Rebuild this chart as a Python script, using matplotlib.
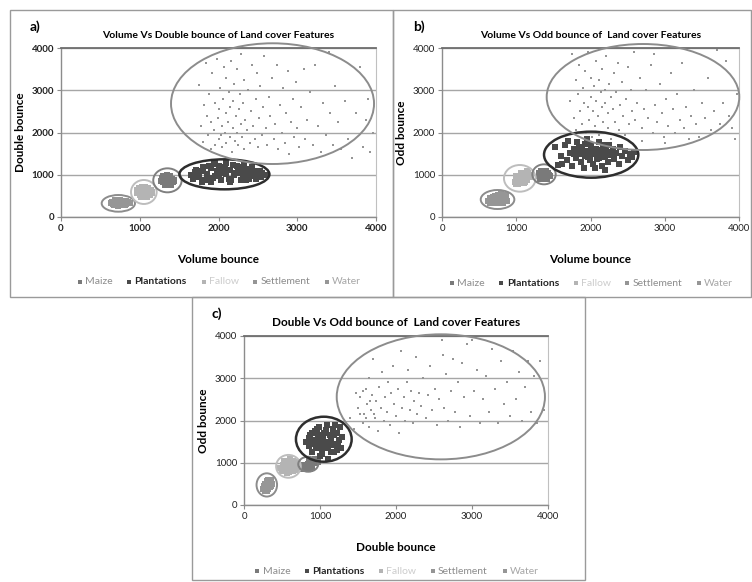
import matplotlib.pyplot as plt
from matplotlib.patches import Ellipse, Rectangle

plt.rcParams['font.family'] = ['Lato', 'DejaVu Sans']

W, H = 752, 582

classes = ["Maize", "Plantations", "Fallow", "Settlement", "Water"]
point_colors = {"Maize": "#7a7a7a", "Plantations": "#4a4a4a", "Fallow": "#b4b4b4",
                "Settlement": "#959595", "Water": "#969696"}
legend_text_colors = {"Maize": "#8c8c8c", "Plantations": "#262626", "Fallow": "#cccccc",
                      "Settlement": "#8c8c8c", "Water": "#a6a6a6"}
point_sizes = {"Maize": 14, "Plantations": 24, "Fallow": 14, "Settlement": 4, "Water": 14}

# ---------------- panel a: Volume vs Double ----------------
a_water = [(640, 330), (660, 300), (680, 360), (700, 320), (720, 380), (740, 340), (760, 300), (780, 360),
           (800, 330), (820, 310), (850, 350), (870, 320), (670, 280), (710, 290), (750, 400), (790, 390),
           (830, 370), (690, 410), (730, 270), (770, 280), (810, 290), (650, 350)]
a_fallow = [(960, 560), (980, 600), (1000, 520), (1020, 650), (1040, 580), (1060, 620), (1080, 540),
            (1100, 680), (1120, 590), (1140, 630), (1160, 570), (990, 690), (1030, 700), (1070, 710),
            (1110, 660), (1150, 600), (1010, 480), (1050, 500), (1090, 470), (1130, 520), (970, 640),
            (1000, 560), (1060, 560), (1120, 550)]
a_maize = [(1270, 860), (1290, 820), (1310, 900), (1330, 780), (1350, 940), (1370, 850), (1390, 810),
           (1410, 900), (1430, 870), (1300, 960), (1340, 990), (1380, 960), (1420, 820), (1280, 920),
           (1320, 760), (1360, 880), (1400, 760), (1440, 850), (1310, 840), (1350, 800), (1390, 980),
           (1330, 920), (1370, 900)]
a_plant = [(1650, 1000), (1700, 1060), (1750, 950), (1800, 1110), (1850, 1020), (1900, 1150), (1950, 980),
           (2000, 1210), (2050, 1050), (2100, 1270), (2150, 1120), (2200, 990), (2250, 1180), (2300, 1060),
           (2350, 1130), (2400, 960), (2450, 1080), (2500, 1010), (2550, 1050), (2600, 990),
           (1680, 900), (1730, 980), (1780, 1080), (1830, 870), (1880, 1200), (1930, 920), (1980, 1100),
           (2030, 870), (2080, 1180), (2130, 900), (2180, 1230), (2230, 1050), (2280, 880), (2330, 1220),
           (2380, 1010), (2430, 1180), (2480, 900), (2530, 1100), (2580, 1000),
           (1720, 1120), (1790, 840), (1860, 960), (1940, 1250), (2010, 960), (2090, 1100), (2160, 880),
           (2240, 1200), (2310, 990), (2390, 900), (2460, 1030), (2540, 950),
           (1800, 1180), (1900, 820), (2000, 1080), (2100, 1010), (2200, 1040), (2300, 1110), (2400, 1050),
           (1950, 1270), (2150, 820), (2350, 880)]
a_settle = [(1750, 3120), (1780, 2150), (1800, 1780), (1820, 2650), (1840, 3650), (1850, 2400), (1870, 1950),
            (1880, 2900), (1900, 1600), (1900, 2250), (1920, 3400), (1940, 2050), (1950, 2700), (1960, 1700),
            (1980, 3750), (1990, 2350), (2000, 1850), (2010, 2550), (2020, 3050), (2030, 1950), (2040, 2150),
            (2050, 1650), (2060, 2800), (2070, 3550), (2080, 2000), (2090, 2450), (2100, 1750), (2100, 3300),
            (2120, 2250), (2130, 2950), (2140, 1900), (2150, 2600), (2160, 3700), (2170, 1550), (2180, 2100),
            (2190, 2750), (2200, 3150), (2210, 1800), (2220, 2400), (2230, 2000), (2240, 3500), (2250, 1700),
            (2260, 2550), (2270, 2900), (2280, 2200), (2290, 3850), (2300, 1900), (2310, 2700), (2320, 3250),
            (2330, 1600), (2340, 2300), (2360, 2050), (2380, 3000), (2400, 1750), (2410, 2500), (2420, 3600),
            (2440, 2150), (2460, 1850), (2470, 2800), (2490, 3400), (2500, 1650), (2510, 2350), (2530, 3100),
            (2550, 1950), (2560, 2600), (2580, 3800), (2600, 2100), (2620, 1700), (2640, 2850), (2660, 2400),
            (2680, 3300), (2700, 1850), (2720, 2200), (2740, 3600), (2760, 1600), (2780, 2650), (2800, 2000),
            (2820, 3050), (2840, 1750), (2860, 2450), (2880, 3450), (2900, 1500), (2920, 2250), (2940, 2800),
            (2960, 1900), (2980, 3200), (3000, 2100), (3020, 1650), (3050, 2600), (3080, 3500), (3100, 1850),
            (3130, 2300), (3160, 2950), (3200, 1700), (3230, 3600), (3260, 2150), (3300, 1550), (3330, 2700),
            (3360, 1950), (3400, 3900), (3420, 2450), (3450, 1700), (3480, 3100), (3520, 2250), (3560, 1600),
            (3600, 2750), (3650, 1850), (3700, 1400), (3740, 2450), (3800, 3550), (3830, 1650), (3870, 2300),
            (3900, 2800), (3930, 1550), (3960, 2000)]

# ---------------- panel b: Volume vs Odd ----------------
b_water = [(620, 380), (640, 330), (660, 420), (680, 460), (700, 380), (720, 500), (740, 440), (760, 520),
           (780, 470), (800, 540), (820, 400), (850, 450), (880, 380), (660, 350), (700, 340), (740, 360),
           (780, 330), (820, 330), (640, 460), (720, 430), (760, 400), (860, 510), (690, 480)]
b_fallow = [(980, 830), (1000, 900), (1020, 780), (1040, 960), (1060, 850), (1080, 920), (1100, 800),
            (1120, 990), (1140, 880), (1160, 1050), (1180, 940), (1000, 780), (1040, 800), (1080, 1000),
            (1120, 820), (1150, 1080), (1060, 1030), (990, 960), (1100, 900), (1200, 1000), (1020, 870),
            (1140, 960)]
b_maize = [(1310, 960), (1330, 1020), (1350, 920), (1370, 1060), (1390, 980), (1410, 900), (1430, 1040),
           (1450, 960), (1320, 900), (1360, 1000), (1400, 1080), (1440, 1000), (1340, 1080), (1380, 940),
           (1420, 960), (1300, 1040), (1360, 900)]
b_plant = [(1520, 1650), (1560, 1230), (1600, 1450), (1650, 1700), (1680, 1350), (1720, 1520), (1750, 1200),
           (1780, 1620), (1800, 1400), (1820, 1780), (1850, 1500), (1870, 1300), (1890, 1650), (1910, 1150),
           (1930, 1450), (1950, 1850), (1970, 1560), (1990, 1350), (2010, 1700), (2030, 1250), (2050, 1480),
           (2070, 1600), (2090, 1380), (2110, 1780), (2130, 1520), (2150, 1200), (2170, 1650), (2190, 1420),
           (2210, 1560), (2230, 1300), (2250, 1700), (2270, 1480), (2300, 1600), (2320, 1380), (2350, 1520),
           (2380, 1250), (2400, 1650), (2430, 1450), (2460, 1560), (2500, 1350), (2530, 1500), (2560, 1420),
           (2590, 1550), (1880, 1550), (1960, 1420), (2040, 1620), (2120, 1400), (2200, 1700), (2280, 1550),
           (1840, 1640), (1920, 1720), (2000, 1580), (2080, 1500), (2160, 1580), (2240, 1460), (1780, 1500),
           (1700, 1800), (1620, 1260), (2060, 1150), (2200, 1120)]
b_settle = [(1720, 2750), (1750, 3850), (1780, 2350), (1800, 3250), (1810, 2050), (1830, 2900), (1850, 3600),
            (1860, 2500), (1880, 2200), (1900, 3050), (1910, 2700), (1930, 3450), (1940, 2000), (1960, 2600),
            (1970, 3900), (1980, 2300), (2000, 2850), (2010, 3300), (2020, 1900), (2040, 2500), (2050, 3100),
            (2060, 2150), (2070, 3700), (2080, 2750), (2100, 2400), (2110, 3250), (2120, 1950), (2140, 2950),
            (2150, 2600), (2160, 3500), (2170, 2250), (2190, 3000), (2200, 2700), (2210, 3800), (2230, 2100),
            (2240, 2450), (2250, 3150), (2270, 2850), (2280, 1850), (2300, 2550), (2310, 3400), (2330, 2250),
            (2350, 2950), (2370, 3650), (2380, 2050), (2400, 2650), (2420, 3200), (2440, 2400), (2460, 1950),
            (2480, 2800), (2500, 3550), (2520, 2200), (2540, 3000), (2560, 2500), (2580, 3900), (2600, 2300),
            (2630, 2700), (2660, 3300), (2690, 2100), (2720, 2550), (2750, 3000), (2780, 2350), (2810, 3600),
            (2840, 2000), (2870, 2650), (2900, 2250), (2930, 3150), (2960, 2450), (2990, 1900), (3020, 2800),
            (3050, 2150), (3080, 3400), (3110, 2550), (3140, 2000), (3170, 2900), (3200, 2300), (3230, 3650),
            (3260, 2100), (3290, 2600), (3320, 1850), (3350, 2400), (3390, 3000), (3420, 2200), (3460, 1900),
            (3500, 2700), (3540, 2350), (3580, 3300), (3620, 2050), (3660, 2500), (3700, 3950), (3740, 2200),
            (3780, 2700), (3820, 3700), (3860, 2400), (3900, 2100), (3940, 1850), (3970, 2900), (2700, 1800),
            (3000, 1750), (2860, 3850)]

# ---------------- panel c: Double vs Odd ----------------
c_water = [(250, 380), (270, 340), (290, 420), (310, 380), (330, 460), (350, 520), (360, 580), (280, 500),
           (300, 560), (320, 600), (340, 420), (260, 450), (370, 490), (300, 330), (330, 540), (280, 380),
           (350, 450)]
c_fallow = [(480, 880), (510, 950), (530, 820), (550, 1000), (570, 900), (590, 780), (610, 960), (630, 860),
            (650, 1050), (670, 930), (690, 820), (710, 990), (520, 1040), (560, 760), (600, 1080), (640, 800),
            (680, 1020), (500, 800), (620, 920), (580, 860), (540, 900), (660, 880)]
c_maize = [(760, 860), (780, 900), (800, 940), (820, 880), (840, 980), (860, 920), (880, 1000), (900, 960),
           (920, 1040), (940, 990), (960, 1060), (800, 860), (850, 1040), (900, 900), (940, 1080), (780, 950),
           (870, 860), (980, 1020)]
c_plant = [(820, 1500), (850, 1400), (870, 1650), (890, 1250), (910, 1550), (930, 1750), (950, 1350),
           (970, 1600), (990, 1850), (1010, 1450), (1030, 1200), (1050, 1700), (1070, 1500), (1090, 1900),
           (1110, 1350), (1130, 1650), (1150, 1550), (1170, 1800), (1190, 1250), (1210, 1450), (1230, 1700),
           (1250, 1550), (1270, 1350), (1290, 1600), (880, 1450), (940, 1500), (1000, 1650), (1060, 1400),
           (1120, 1500), (1180, 1650), (1240, 1400), (960, 1800), (1020, 1300), (1080, 1780), (1140, 1250),
           (1200, 1900), (900, 1700), (1000, 1150), (1100, 1100), (860, 1580), (1040, 1560), (1160, 1420),
           (980, 1480), (1260, 1850), (1220, 1300)]
c_settle = [(1400, 2050), (1450, 1800), (1500, 2300), (1530, 2550), (1560, 1950), (1580, 2150), (1600, 2750),
            (1620, 2400), (1640, 1850), (1650, 3000), (1670, 2250), (1690, 2600), (1700, 3450), (1720, 2050),
            (1740, 2450), (1760, 1750), (1780, 2800), (1800, 2300), (1820, 3150), (1840, 2000), (1860, 2550),
            (1880, 2200), (1900, 2900), (1920, 1900), (1940, 2650), (1960, 3300), (1980, 2400), (2000, 2100),
            (2020, 2750), (2040, 1700), (2060, 3650), (2080, 2300), (2100, 2550), (2120, 2000), (2140, 2900),
            (2160, 3200), (2180, 2250), (2200, 2700), (2220, 1950), (2240, 2450), (2260, 3500), (2280, 2150),
            (2300, 2650), (2330, 2350), (2360, 3000), (2390, 2050), (2420, 2600), (2450, 3300), (2480, 2250),
            (2510, 2750), (2540, 1900), (2570, 2500), (2600, 3900), (2630, 2300), (2660, 3100), (2690, 2000),
            (2720, 2700), (2750, 3450), (2780, 2200), (2810, 2900), (2840, 1850), (2870, 3350), (2900, 2550),
            (2940, 3800), (2980, 2100), (3020, 2700), (3060, 3200), (3100, 1950), (3140, 2500), (3180, 3050),
            (3220, 2200), (3260, 3700), (3300, 2750), (3340, 1950), (3380, 3400), (3420, 2400), (3460, 2900),
            (3500, 2100), (3540, 3650), (3580, 2500), (3620, 3150), (3660, 2000), (3700, 2800), (3740, 3400),
            (3780, 2200), (3820, 3050), (3860, 1950), (3900, 3400), (3950, 2250), (1480, 2650), (1520, 2150),
            (1560, 2700), (1610, 2050), (1660, 2450), (1710, 2150), (2620, 3550), (3000, 3900)]

# cluster ellipses: (class, centre x, centre y, width, height) in data units
a_ellipses = [("Water", 728, 323, 423, 395), ("Fallow", 1052, 592, 326, 568),
              ("Maize", 1352, 868, 361, 568), ("Plantations", 2075, 1010, 1143, 710),
              ("Settlement", 2686, 2683, 2578, 2857)]
b_ellipses = [("Water", 748, 414, 453, 450), ("Fallow", 1048, 915, 427, 631),
              ("Maize", 1374, 1010, 315, 473), ("Plantations", 2009, 1475, 1270, 1090),
              ("Settlement", 2707, 2840, 2594, 2509)]
c_ellipses = [("Water", 300, 475, 270, 550), ("Fallow", 585, 915, 325, 540),
              ("Maize", 845, 965, 263, 355), ("Plantations", 1050, 1557, 733, 1065),
              ("Settlement", 2590, 2560, 2740, 2960)]
ellipse_colors = {"Water": "#8c8c8c", "Fallow": "#bdbdbd", "Maize": "#808080",
                  "Plantations": "#2e2e2e", "Settlement": "#8c8c8c"}

ticks = [0, 1000, 2000, 3000, 4000]

panels = [
    dict(tag="a)", title="Volume Vs Double bounce of Land cover Features",
         xlabel="Volume bounce", ylabel="Double bounce",
         data={"Maize": a_maize, "Plantations": a_plant, "Fallow": a_fallow,
               "Settlement": a_settle, "Water": a_water},
         ellipses=a_ellipses, box=(10, 10, 393, 297), axes=(61, 48, 376, 217),
         bold_ticks=True, title_size=7.5, legend_y=-0.30),
    dict(tag="b)", title="Volume Vs Odd bounce of  Land cover Features",
         xlabel="Volume bounce", ylabel="Odd bounce",
         data={"Maize": b_maize, "Plantations": b_plant, "Fallow": b_fallow,
               "Settlement": b_settle, "Water": b_water},
         ellipses=b_ellipses, box=(393, 10, 751, 297), axes=(442, 48, 739, 217),
         bold_ticks=False, title_size=7.5, legend_y=-0.31),
    dict(tag="c)", title="Double Vs Odd bounce of  Land cover Features",
         xlabel="Double bounce", ylabel="Odd bounce",
         data={"Maize": c_maize, "Plantations": c_plant, "Fallow": c_fallow,
               "Settlement": c_settle, "Water": c_water},
         ellipses=c_ellipses, box=(192, 297, 585, 580), axes=(244, 336, 548, 505),
         bold_ticks=False, title_size=8.5, legend_y=-0.31),
]

fig = plt.figure(figsize=(W / 100, H / 100), dpi=100)


def fx(x):
    return x / W


def fy(y):
    return 1 - y / H


for p in panels:
    x0, y0, x1, y1 = p["box"]
    fig.patches.append(Rectangle((fx(x0), fy(y1)), fx(x1) - fx(x0), fy(y0) - fy(y1),
                                 transform=fig.transFigure, fill=False,
                                 edgecolor="#9a9a9a", linewidth=1.0))
    l, t, r, b = p["axes"]
    ax = fig.add_axes([fx(l), fy(b), fx(r) - fx(l), fy(t) - fy(b)])
    ax.set_xlim(0, 4000)
    ax.set_ylim(0, 4000)
    ax.set_xticks(ticks)
    ax.set_yticks(ticks)
    ax.grid(axis='y', color="#a6a6a6", linewidth=1.0)
    ax.set_axisbelow(True)
    for side in ["left", "bottom"]:
        ax.spines[side].set_color("#8c8c8c")
        ax.spines[side].set_linewidth(1.0)
    ax.spines["top"].set_color("#6e6e6e")
    ax.spines["top"].set_linewidth(1.3)
    ax.spines["right"].set_color("#c0c0c0")
    ax.tick_params(direction='out', length=3, color="#8c8c8c", labelsize=7, pad=2)
    tw = 'bold' if p["bold_ticks"] else 'normal'
    for lab in ax.get_xticklabels() + ax.get_yticklabels():
        lab.set_fontweight(tw)
        lab.set_color("#222222")

    handles = []
    for name in classes:
        xs, ys = zip(*p["data"][name])
        h = ax.scatter(xs, ys, s=point_sizes[name], marker='s', color=point_colors[name],
                       linewidths=0, label=name, zorder=3)
        handles.append(h)

    for name, cx, cy, w, hgt in p["ellipses"]:
        lw = 1.8 if name == "Plantations" else 1.4
        ax.add_patch(Ellipse((cx, cy), w, hgt, fill=False, edgecolor=ellipse_colors[name],
                             linewidth=lw, zorder=4, clip_on=False))

    ax.set_xlabel(p["xlabel"], fontsize=8.5, fontweight='bold', labelpad=15)
    ax.set_ylabel(p["ylabel"], fontsize=8.5, fontweight='bold', labelpad=4)
    ax.set_title(p["title"], fontsize=p["title_size"], fontweight='bold', pad=7)
    fig.text(fx(x0 + 20), fy(y0 + 17), p["tag"], fontsize=10, fontweight='bold', va='center')

    leg = ax.legend(handles=handles, loc='upper center', bbox_to_anchor=(0.5, p["legend_y"]),
                    ncol=5, frameon=False, fontsize=7.5, markerscale=0.9,
                    handletextpad=0.1, columnspacing=1.2, handlelength=0.8)
    for txt, name in zip(leg.get_texts(), classes):
        txt.set_color(legend_text_colors[name])
        if name == "Plantations":
            txt.set_fontweight('bold')
    for hnd in leg.legend_handles:
        hnd.set_sizes([8])

fig.savefig("out.png", dpi=100)
